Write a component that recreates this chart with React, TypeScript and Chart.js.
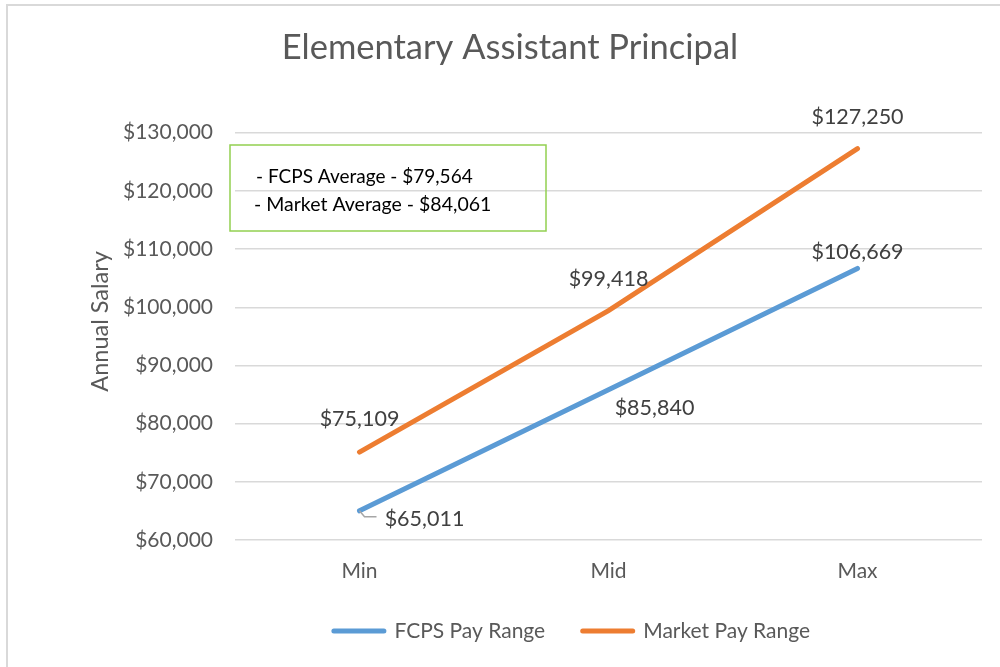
import React, { useEffect, useRef } from "react";
import { Chart, registerables } from "chart.js";

Chart.register(...registerables);

const categories = ["Min", "Mid", "Max"];
const fcpsValues = [65011, 85840, 106669];
const marketValues = [75109, 99418, 127250];
const seriesNames = ["FCPS Pay Range", "Market Pay Range"];
const yTicks = [60000, 70000, 80000, 90000, 100000, 110000, 120000, 130000];
const noteLines = ["- FCPS Average - $79,564", "- Market Average - $84,061"];
const chartTitle = "Elementary Assistant Principal";
const yAxisTitle = "Annual Salary";

const FONT = "Lato, 'Open Sans', sans-serif";
const TEXT = "#595959";
const BLUE = "#5b9bd5";
const ORANGE = "#ed7d31";

const fmt = (v: number) => "$" + v.toLocaleString("en-US");

// label offsets relative to each point [dx, dy]
const labelOffsets = [
  [[65, 8], [46, 18], [0, -16]],
  [[0, -33], [0, -32], [0, -32]],
];

const overlayPlugin = {
  id: "overlay",
  afterLayout(chart: any) {
    const lg = chart.legend;
    if (lg) {
      lg.left += 62;
      lg.right += 62;
    }
    const y = chart.scales.y;
    if (y) {
      // move axis title centre up (Excel places it above the plot centre)
      y.top -= 30;
    }
  },
  beforeDraw(chart: any) {
    const ctx = chart.ctx;
    ctx.save();
    ctx.fillStyle = "#fff";
    ctx.fillRect(0, 0, chart.width, chart.height);
    ctx.strokeStyle = "#d9d9d9";
    ctx.lineWidth = 2;
    ctx.beginPath();
    ctx.moveTo(7, 667);
    ctx.lineTo(7, 5);
    ctx.lineTo(1000, 5);
    ctx.stroke();
    ctx.restore();
  },
  afterDatasetsDraw(chart: any) {
    const ctx = chart.ctx;
    ctx.save();
    // note box
    ctx.strokeStyle = "#92d050";
    ctx.lineWidth = 1.5;
    ctx.strokeRect(230, 145, 316, 86);
    ctx.fillStyle = "#000";
    ctx.font = `19px ${FONT}`;
    ctx.textAlign = "left";
    ctx.textBaseline = "middle";
    ctx.fillText(noteLines[0], 256, 177);
    ctx.font = `19.5px ${FONT}`;
    ctx.fillText(noteLines[1], 254, 205);

    // data labels
    ctx.font = `21.5px ${FONT}`;
    ctx.fillStyle = "#404040";
    ctx.textAlign = "center";
    chart.data.datasets.forEach((ds: any, di: number) => {
      const meta = chart.getDatasetMeta(di);
      meta.data.forEach((pt: any, i: number) => {
        const [dx, dy] = labelOffsets[di][i];
        if (di === 0 && i === 0) {
          ctx.strokeStyle = "#a6a6a6";
          ctx.lineWidth = 1.5;
          ctx.beginPath();
          ctx.moveTo(pt.x, pt.y);
          ctx.lineTo(pt.x + 5, pt.y + 6);
          ctx.lineTo(pt.x + 17, pt.y + 6);
          ctx.stroke();
        }
        ctx.fillText(fmt(ds.data[i]), pt.x + dx, pt.y + dy);
      });
    });
    ctx.restore();
  },
};

export default function App() {
  const ref = useRef<HTMLCanvasElement>(null);
  useEffect(() => {
    if (!ref.current) return;
    const chart = new Chart(ref.current, {
      type: "line",
      data: {
        labels: categories,
        datasets: [
          {
            label: seriesNames[0],
            data: fcpsValues,
            borderColor: BLUE,
            backgroundColor: BLUE,
            borderWidth: 5,
            borderCapStyle: "round",
            pointRadius: 0,
            pointHoverRadius: 0,
          },
          {
            label: seriesNames[1],
            data: marketValues,
            borderColor: ORANGE,
            backgroundColor: ORANGE,
            borderWidth: 5,
            borderCapStyle: "round",
            pointRadius: 0,
            pointHoverRadius: 0,
          },
        ],
      },
      options: {
        responsive: false,
        animation: false,
        layout: { padding: { left: 38, right: 18, top: 0, bottom: 15.5 } },
        plugins: {
          tooltip: { enabled: false },
          title: {
            display: true,
            text: chartTitle,
            color: TEXT,
            font: { family: FONT, size: 34.5, weight: "normal" },
            padding: { top: 27.3, bottom: 64 },
          },
          legend: {
            position: "bottom",
            labels: {
              usePointStyle: true,
              pointStyle: "line",
              pointStyleWidth: 50,
              boxHeight: 20,
              color: TEXT,
              font: { family: FONT, size: 21 },
              padding: 37.5,
              generateLabels: (c: any) =>
                Chart.defaults.plugins.legend.labels
                  .generateLabels(c)
                  .map((it: any) => ({ ...it, lineCap: "round", lineWidth: 5 })),
            },
          },
        },
        scales: {
          x: {
            offset: true,
            grid: { display: false },
            border: { display: false },
            ticks: { color: TEXT, font: { family: FONT, size: 21 }, padding: 11 },
            afterFit: (s: any) => {
              s.height = 43;
            },
          },
          y: {
            min: 60000,
            max: 130000,
            afterBuildTicks: (s: any) => {
              s.ticks = yTicks.map((v) => ({ value: v }));
            },
            grid: { color: "#d9d9d9", lineWidth: 1.5, drawTicks: false },
            border: { display: false },
            ticks: {
              color: TEXT,
              font: { family: FONT, size: 21 },
              padding: 22,
              callback: (v: any) => fmt(Number(v)),
            },
            title: {
              display: true,
              text: yAxisTitle,
              color: TEXT,
              font: { family: FONT, size: 23.5 },
              padding: { top: 48, bottom: 0 },
            },
            afterFit: (s: any) => {
              s.width = 197;
            },
          },
        },
      },
      plugins: [overlayPlugin],
    });
    return () => chart.destroy();
  }, []);
  return (
    <div style={{ position: "fixed", left: 0, top: 0, width: 1000, height: 667 }}>
      <canvas ref={ref} width={1000} height={667} style={{ display: "block" }} />
    </div>
  );
}
